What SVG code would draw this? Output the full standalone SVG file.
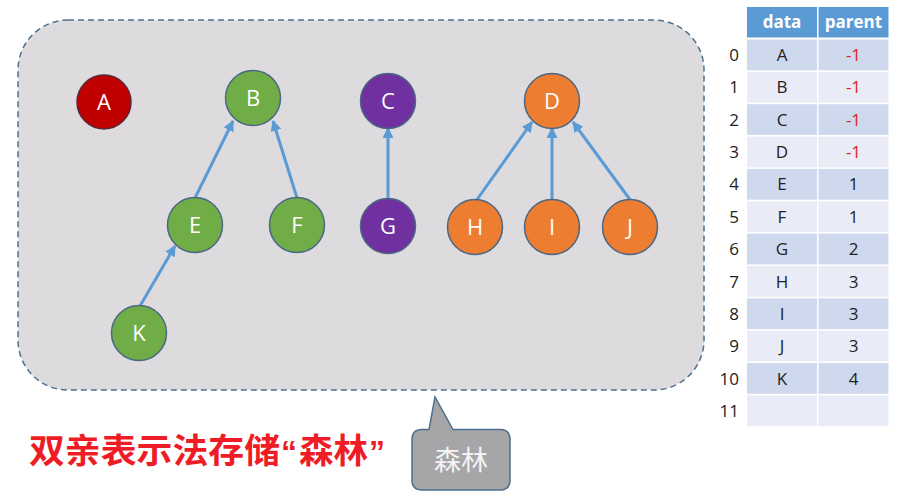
<svg xmlns="http://www.w3.org/2000/svg" width="907" height="501" viewBox="0 0 907 501">
<style>
.node circle{stroke:#4a6784;stroke-width:1.5}
.node text{font-family:"Open Sans","Liberation Sans",sans-serif;font-size:22px;fill:#fff;text-anchor:middle}
.green{fill:#70ad47}.red{fill:#c00000}.purple{fill:#7030a0}.orange{fill:#ed7d31}
.edge{stroke:#5b9bd5;stroke-width:3;fill:none;marker-end:url(#ah)}
.hd{fill:#5b9bd5}.dk{fill:#cfd9ee}.lt{fill:#e9ebf6}
.ht{font-family:"Open Sans","Liberation Sans",sans-serif;font-size:17px;font-weight:bold;fill:#fff;text-anchor:middle}
.ct{font-family:"Open Sans","Liberation Sans",sans-serif;font-size:17px;fill:#222;text-anchor:middle}
.neg{fill:#e02020}
.ix{font-family:"Open Sans","Liberation Sans",sans-serif;font-size:17px;fill:#222;text-anchor:end}
.ttl{font-family:"Noto Sans CJK SC",sans-serif;font-size:34px;font-weight:bold;fill:#ee1c25}
.q{font-family:"Liberation Sans",sans-serif;font-size:32px}
</style>
<defs>
<marker id="ah" viewBox="0 0 10 10" refX="9" refY="5" markerWidth="11" markerHeight="11" markerUnits="userSpaceOnUse" orient="auto">
<path d="M0,0 L10,5 L0,10 z" fill="#5b9bd5"/>
</marker>
</defs>
<rect width="907" height="501" fill="#fff"/>
<rect id="frame" x="18" y="20" width="686" height="370" rx="50" ry="50" fill="#dddbde" stroke="#4f7190" stroke-width="1.5" stroke-dasharray="6 4"/>
<g id="connectors">
<line class="edge" x1="195" y1="198" x2="233" y2="121"/>
<line class="edge" x1="297" y1="198" x2="273" y2="121"/>
<line class="edge" x1="140" y1="306" x2="175" y2="246"/>
<line class="edge" x1="388" y1="198" x2="388" y2="128"/>
<line class="edge" x1="476" y1="201" x2="532" y2="122"/>
<line class="edge" x1="552" y1="200" x2="552" y2="128"/>
<line class="edge" x1="631" y1="201" x2="573" y2="122"/>
</g>
<g id="A" class="node"><circle class="red" cx="104" cy="102" r="27" style="stroke:#5a2a3a"/><text x="104" y="110">A</text></g>
<g id="B" class="node"><circle class="green" cx="253" cy="98" r="27.5"/><text x="253" y="106">B</text></g>
<g id="E" class="node"><circle class="green" cx="195" cy="225" r="27.5"/><text x="195" y="233">E</text></g>
<g id="F" class="node"><circle class="green" cx="297" cy="225" r="27.5"/><text x="297" y="233">F</text></g>
<g id="K" class="node"><circle class="green" cx="139" cy="333" r="27.5"/><text x="139" y="341">K</text></g>
<g id="C" class="node"><circle class="purple" cx="388" cy="101" r="27.5"/><text x="388" y="109">C</text></g>
<g id="G" class="node"><circle class="purple" cx="388" cy="226" r="27.5"/><text x="388" y="234">G</text></g>
<g id="D" class="node"><circle class="orange" cx="552" cy="101" r="27.5"/><text x="552" y="109">D</text></g>
<g id="H" class="node"><circle class="orange" cx="475" cy="227" r="27.5"/><text x="475" y="235">H</text></g>
<g id="I" class="node"><circle class="orange" cx="552" cy="227" r="27.5"/><text x="552" y="235">I</text></g>
<g id="J" class="node"><circle class="orange" cx="630" cy="227" r="27.5"/><text x="630" y="235">J</text></g>
<g id="table">
<rect class="hd" x="747" y="7" width="70" height="30.5"/>
<rect class="hd" x="818.5" y="7" width="70" height="30.5"/>
<text class="ht" x="782" y="28">data</text>
<text class="ht" x="853.5" y="28">parent</text>
<g>
<rect class="dk" x="747" y="39.5" width="70" height="30.8"/><rect class="dk" x="818.5" y="39.5" width="70" height="30.8"/>
<rect class="lt" x="747" y="71.9" width="70" height="30.8"/><rect class="lt" x="818.5" y="71.9" width="70" height="30.8"/>
<rect class="dk" x="747" y="104.2" width="70" height="30.8"/><rect class="dk" x="818.5" y="104.2" width="70" height="30.8"/>
<rect class="lt" x="747" y="136.6" width="70" height="30.8"/><rect class="lt" x="818.5" y="136.6" width="70" height="30.8"/>
<rect class="dk" x="747" y="168.9" width="70" height="30.8"/><rect class="dk" x="818.5" y="168.9" width="70" height="30.8"/>
<rect class="lt" x="747" y="201.3" width="70" height="30.8"/><rect class="lt" x="818.5" y="201.3" width="70" height="30.8"/>
<rect class="dk" x="747" y="233.6" width="70" height="30.8"/><rect class="dk" x="818.5" y="233.6" width="70" height="30.8"/>
<rect class="lt" x="747" y="266" width="70" height="30.8"/><rect class="lt" x="818.5" y="266" width="70" height="30.8"/>
<rect class="dk" x="747" y="298.3" width="70" height="30.8"/><rect class="dk" x="818.5" y="298.3" width="70" height="30.8"/>
<rect class="lt" x="747" y="330.7" width="70" height="30.8"/><rect class="lt" x="818.5" y="330.7" width="70" height="30.8"/>
<rect class="dk" x="747" y="363" width="70" height="30.8"/><rect class="dk" x="818.5" y="363" width="70" height="30.8"/>
<rect class="lt" x="747" y="395.4" width="70" height="30.8"/><rect class="lt" x="818.5" y="395.4" width="70" height="30.8"/>
</g>
<g>
<text class="ix" x="739" y="61">0</text><text class="ct" x="782" y="61">A</text><text class="ct neg" x="853.5" y="61">-1</text>
<text class="ix" x="739" y="93.4">1</text><text class="ct" x="782" y="93.4">B</text><text class="ct neg" x="853.5" y="93.4">-1</text>
<text class="ix" x="739" y="125.7">2</text><text class="ct" x="782" y="125.7">C</text><text class="ct neg" x="853.5" y="125.7">-1</text>
<text class="ix" x="739" y="158.1">3</text><text class="ct" x="782" y="158.1">D</text><text class="ct neg" x="853.5" y="158.1">-1</text>
<text class="ix" x="739" y="190.4">4</text><text class="ct" x="782" y="190.4">E</text><text class="ct" x="853.5" y="190.4">1</text>
<text class="ix" x="739" y="222.8">5</text><text class="ct" x="782" y="222.8">F</text><text class="ct" x="853.5" y="222.8">1</text>
<text class="ix" x="739" y="255.1">6</text><text class="ct" x="782" y="255.1">G</text><text class="ct" x="853.5" y="255.1">2</text>
<text class="ix" x="739" y="287.5">7</text><text class="ct" x="782" y="287.5">H</text><text class="ct" x="853.5" y="287.5">3</text>
<text class="ix" x="739" y="319.8">8</text><text class="ct" x="782" y="319.8">I</text><text class="ct" x="853.5" y="319.8">3</text>
<text class="ix" x="739" y="352.2">9</text><text class="ct" x="782" y="352.2">J</text><text class="ct" x="853.5" y="352.2">3</text>
<text class="ix" x="739" y="384.5">10</text><text class="ct" x="782" y="384.5">K</text><text class="ct" x="853.5" y="384.5">4</text>
<text class="ix" x="739" y="416.9">11</text>
</g>
</g>
<text id="title" class="ttl" y="463"><tspan x="29" textLength="251" lengthAdjust="spacingAndGlyphs">双亲表示法存储</tspan><tspan class="q" x="281">“</tspan><tspan x="299" textLength="69" lengthAdjust="spacingAndGlyphs">森林</tspan><tspan class="q" x="369">”</tspan></text>
<g id="callout">
<path d="M420,429.5 L429,429.5 L435,397 L453,429.5 L500,429.5 Q510,429.5 510,439.5 L510,480 Q510,490 500,490 L422,490 Q412,490 412,480 L412,439.5 Q412,429.5 422,429.5 Z" fill="#a6a6a8" stroke="#4e6f8e" stroke-width="1.5"/>
<text x="461" y="470" font-family="'Noto Sans CJK SC',sans-serif" font-size="27" fill="#f4f4f4" text-anchor="middle">森林</text>
</g>
</svg>
